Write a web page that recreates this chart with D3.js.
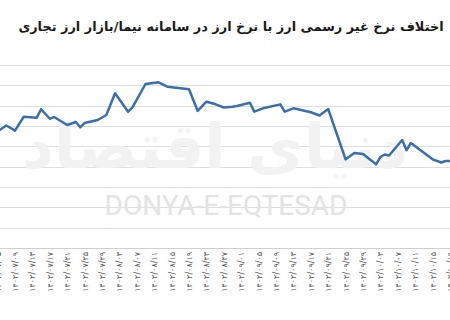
<!DOCTYPE html>
<html>
<head>
<meta charset="utf-8">
<script src="https://cdn.jsdelivr.net/npm/d3@7"></script>
<style>
  body { margin: 0; background: #fff; }
  svg { display: block; }
</style>
</head>
<body>
<div id="chart"></div>
<script>
// series: date of each recorded point and the gap (toman) between free market and NIMA rate
const pointDates = [
  "1402/07/05", "1402/07/07", "1402/07/09", "1402/07/11", "1402/07/14", "1402/07/15",
  "1402/07/17", "1402/07/18", "1402/07/21", "1402/07/23", "1402/07/24", "1402/07/25",
  "1402/07/28", "1402/07/30", "1402/08/02", "1402/08/05", "1402/08/06", "1402/08/09",
  "1402/08/12", "1402/08/14", "1402/08/19", "1402/08/21", "1402/08/23", "1402/08/25",
  "1402/08/27", "1402/08/29", "1402/08/30", "1402/09/03", "1402/09/04", "1402/09/06",
  "1402/09/10", "1402/09/11", "1402/09/13", "1402/09/17", "1402/09/19", "1402/09/21",
  "1402/09/25", "1402/09/27", "1402/09/29", "1402/10/02", "1402/10/03", "1402/10/04",
  "1402/10/05", "1402/10/08", "1402/10/09", "1402/10/10", "1402/10/15", "1402/10/17",
  "1402/10/18", "1402/10/20"
];
const pointValues = [
  11460, 12050, 11540, 12910, 12820, 13650,
  12710, 12890, 12100, 12390, 11870, 12300,
  12590, 13080, 15220, 13410, 13840, 16130,
  16300, 15870, 15610, 13480, 14390, 14160,
  13820, 13900, 13970, 14290, 13410, 13740,
  14130, 13410, 13740, 13350, 13030, 13670,
  8720, 9340, 9250, 8230, 8950, 9200,
  9100, 10620, 9610, 10330, 8720, 8410,
  8560, 8560
];

// gridline values
const gridValues = [0, 2000, 4000, 6000, 8000, 10000, 12000, 14000, 16000, 18000];

// month lengths of the shown months (Persian calendar) used to list the daily categories
const months = ["07", "08", "09", "10"];
const monthDays = [30, 30, 30, 30];
const firstDay = 5, lastDay = 20;

const title = "اختلاف نرخ غیر رسمی ارز با نرخ ارز در سامانه نیما/بازار ارز تجاری";

const faDigits = s => s.replace(/\d/g, d => "۰۱۲۳۴۵۶۷۸۹"[d]);

const days = [];
months.forEach((m, mi) => {
  const start = mi === 0 ? firstDay : 1;
  const end = mi === months.length - 1 ? lastDay : monthDays[mi];
  for (let d = start; d <= end; d++) days.push(`1402/${m}/${String(d).padStart(2, "0")}`);
});

const width = 450, height = 320;
const dayStep = 4.35;

const svg = d3.select("#chart").append("svg")
  .attr("width", width)
  .attr("height", height)
  .attr("viewBox", `0 0 ${width} ${height}`);

const x = d3.scalePoint()
  .domain(days)
  .range([-2.4, -2.4 + dayStep * (days.length - 1)]);

const y = d3.scaleLinear()
  .domain([0, 18000])
  .range([248, 65]);

// title, sized to span the same width as the original
const titleText = svg.append("text")
  .attr("x", 231)
  .attr("y", 31)
  .attr("text-anchor", "middle")
  .attr("direction", "rtl")
  .style("font-family", "'DejaVu Sans', sans-serif")
  .style("font-weight", "bold")
  .style("font-size", "14px")
  .attr("fill", "#1a1a1a")
  .text(title);
const tw = titleText.node().getComputedTextLength();
titleText.style("font-size", Math.min(16, 14 * 426 / tw) + "px");

// gridlines
svg.append("g")
  .selectAll("line")
  .data(gridValues)
  .join("line")
  .attr("x1", 0)
  .attr("x2", width)
  .attr("y1", d => Math.round(y(d)) + 0.5)
  .attr("y2", d => Math.round(y(d)) + 0.5)
  .attr("stroke", d => d === 0 ? "#cfcfcf" : "#dedede")
  .attr("stroke-width", 1);

// watermarks
svg.append("text")
  .attr("x", 215)
  .attr("y", 168)
  .attr("text-anchor", "middle")
  .attr("direction", "rtl")
  .style("font-family", "'DejaVu Sans', sans-serif")
  .style("font-weight", "bold")
  .style("font-size", "62px")
  .attr("fill", "#f2f2f2")
  .text("دنیای اقتصاد");

svg.append("text")
  .attr("x", 226)
  .attr("y", 215)
  .attr("text-anchor", "middle")
  .style("font-family", "Roboto, sans-serif")
  .style("font-size", "28px")
  .attr("fill", "#e3e3e3")
  .text("DONYA-E-EQTESAD");

// x tick labels: every fourth day starting at 07/05
const tickDays = days.filter((d, i) => i % 4 === 0);
svg.append("g")
  .selectAll("text")
  .data(tickDays)
  .join("text")
  .attr("transform", d => `translate(${x(d) + 3},252) rotate(-90)`)
  .attr("text-anchor", "end")
  .style("font-family", "'DejaVu Sans', sans-serif")
  .style("font-size", "8px")
  .attr("fill", "#595959")
  .text(d => faDigits(d));

// line
const points = pointDates.map((d, i) => ({ date: d, value: pointValues[i] }));
const line = d3.line()
  .x(d => x(d.date))
  .y(d => y(d.value));

svg.append("path")
  .datum(points)
  .attr("fill", "none")
  .attr("stroke", "#3b6eae")
  .attr("stroke-width", 2.5)
  .attr("stroke-linejoin", "round")
  .attr("d", line);
</script>
</body>
</html>
